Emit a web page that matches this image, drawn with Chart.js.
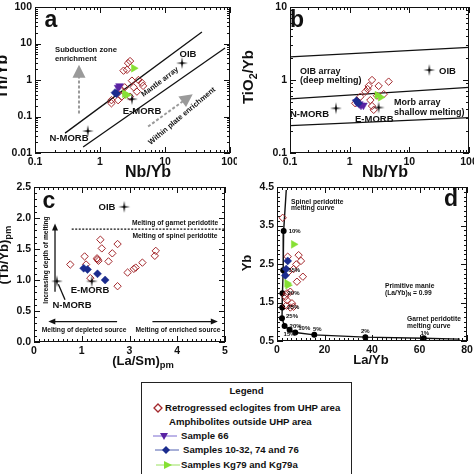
<!DOCTYPE html>
<html>
<head>
<meta charset="utf-8">
<script src="https://cdn.jsdelivr.net/npm/chart.js@4.4.1/dist/chart.umd.min.js"></script>
<style>
  body { margin: 0; background: #fff; width: 474px; height: 474px; overflow: hidden; position: relative; }
  canvas { position: absolute; }
  #legend { position: absolute; left: 141px; top: 382px; width: 209px; height: 110px; border: 1px solid #222; background: #fff;
            font: bold 9.6px 'Liberation Sans', Arial, sans-serif; color: #111; }
  #legend div, #legend svg { position: absolute; white-space: nowrap; line-height: 12px; }
</style>
</head>
<body>
<canvas id="ca" width="237" height="180" style="left:0;top:0"></canvas>
<canvas id="cb" width="237" height="180" style="left:237px;top:0"></canvas>
<canvas id="cc" width="237" height="192" style="left:0;top:180px"></canvas>
<canvas id="cd" width="237" height="192" style="left:237px;top:180px"></canvas>

<div id="legend">
  <div style="left:0;width:209px;text-align:center;top:2px">Legend</div>
  <svg style="left:11px;top:20px" width="10" height="10"><path d="M5 1 L9 5 L5 9 L1 5 Z" fill="none" stroke="#a3282c" stroke-width="1.3"/></svg>
  <div style="left:23px;top:19px">Retrogressed eclogites from UHP area</div>
  <div style="left:27px;top:33px">Amphibolites outside UHP area</div>
  <svg style="left:10px;top:47px" width="26" height="12"><line x1="1" y1="6" x2="25" y2="6" stroke="#7a6ad0" stroke-width="1"/><path d="M8 3 L16 3 L12 10 Z" fill="#5a23a3"/></svg>
  <div style="left:39px;top:47px">Sample 66</div>
  <svg style="left:12px;top:61px" width="26" height="12"><line x1="1" y1="6" x2="25" y2="6" stroke="#5060b0" stroke-width="1"/><path d="M12 2 L16 6 L12 10 L8 6 Z" fill="#1b2c8e"/></svg>
  <div style="left:41px;top:61px">Samples 10-32, 74 and 76</div>
  <svg style="left:13px;top:76px" width="26" height="12"><line x1="1" y1="6" x2="25" y2="6" stroke="#9be060" stroke-width="1"/><path d="M9 2 L17 6 L9 10 Z" fill="#86e034"/></svg>
  <div style="left:39px;top:76px">Samples Kg79 and Kg79a</div>
</div>

<script>
const FONT = "'Liberation Sans', Arial, sans-serif";

// ---------- data ----------
// reference compositions (stars), order: N-MORB, E-MORB, OIB
const refNames = ['N-MORB', 'E-MORB', 'OIB'];

// panel a : Th/Yb vs Nb/Yb
const aEclX = [2.9, 2.7, 2.3, 2.6, 3.1, 3.9, 2.4, 3.3, 4.4, 4.6, 2.15, 2.9, 1.5, 1.5, 1.9, 3.7, 2.1];
const aEclY = [3.3, 2.9, 1.8, 1.9, 0.96, 1.0, 0.63, 0.63, 0.84, 0.69, 0.35, 0.35, 0.28, 0.23, 0.28, 0.48, 0.55];
const a66X = [2.0, 1.9];
const a66Y = [0.69, 0.62];
const a10X = [1.7, 1.8];
const a10Y = [0.45, 0.42];
const aKgX = [3.3, 2.6, 2.4];
const aKgY = [2.1, 0.39, 0.42];
const aRefX = [0.65, 3.1, 18.3];
const aRefY = [0.04, 0.30, 2.9];
const aUpperX = [0.29, 37];
const aUpperY = [0.035, 20.6];
const aLowerX = [0.55, 84];
const aLowerY = [0.0146, 7.5];

// panel b : TiO2/Yb vs Nb/Yb
const bEclX = [4.5, 2.37, 3.06, 3.72, 2.87, 2.08, 1.83, 2.22, 1.51, 1.33, 1.24, 2.37, 2.53, 2.0];
const bEclY = [0.95, 1.0, 0.83, 0.64, 0.61, 0.83, 0.69, 0.53, 0.59, 0.52, 0.48, 0.44, 0.39, 0.75];
const b66X = [1.3, 1.45, 1.55, 1.7];
const b66Y = [0.5, 0.47, 0.45, 0.45];
const b10X = [1.3, 1.4];
const b10Y = [0.52, 0.48];
const bKgX = [2.9, 3.3];
const bKgY = [0.62, 0.58];
const bRefX = [0.59, 3.06, 21.6];
const bRefY = [0.41, 0.42, 1.37];
const bTopY = [2.08, 2.8];
const bMidY = [0.55, 0.79];
const bLowY = [0.237, 0.305];
const bLineX = [0.1, 100];

// panel c : (Tb/Yb)pm vs (La/Sm)pm  (x in axis units, labelled 0,1,3,4,5 as printed)
const cEclX = [0.76, 1.06, 1.09, 1.39, 1.42, 1.32, 1.33, 1.35, 1.56, 1.64, 1.75, 1.75, 1.96, 2.09, 2.13, 2.27, 2.53, 2.55, 1.18];
const cEclY = [1.25, 1.38, 1.25, 1.65, 1.51, 1.35, 1.33, 1.31, 1.30, 1.43, 1.58, 0.90, 1.12, 1.18, 1.20, 1.28, 1.39, 1.47, 1.03];
const c10X = [1.04, 1.12, 1.33, 1.49];
const c10Y = [1.19, 1.17, 1.10, 1.00];
const cRefX = [0.48, 1.21, 1.89];
const cRefY = [0.98, 0.98, 2.18];
const cGarnetX = [0.79, 4];
const cGarnetY = [1.82, 1.82];

// panel d : Yb vs La/Yb
const dEclX = [2.4, 4.5, 9.1, 10.1, 8.1, 7.0, 8.4, 10.9, 4.9, 4.2, 5.6, 4.2, 6.3, 3.9, 5.6, 3.5, 7.0];
const dEclY = [3.7, 2.69, 2.73, 2.58, 2.49, 2.37, 2.04, 2.17, 2.3, 1.74, 1.78, 1.56, 1.48, 1.42, 1.37, 1.65, 1.39];
const d10X = [4.5, 3.9, 3.5];
const d10Y = [2.58, 2.37, 2.2];
const dKgX = [7.0, 4.2, 4.6];
const dKgY = [3.01, 2.0, 1.95];
const dCurveX = [3.9, 2.8, 2.6, 2.3, 2.2, 2.1, 3.2, 5.3, 7.7, 15.7, 37.2, 61.8, 77];
const dCurveY = [4.42, 3.36, 2.34, 1.74, 1.37, 1.09, 0.89, 0.79, 0.72, 0.66, 0.60, 0.57, 0.55];
const dCurvePct = ['', '10%', '15%', '20%', '25%', '25%', '20%', '15%', '10%', '5%', '2%', '1%', ''];

// tick labels
const logX = ['0.1', '1', '10', '100'];
const aYTicks = ['0.01', '0.1', '1', '10', '100'];
const bYTicks = ['0.1', '1', '10'];
const cXTicks = ['0', '1', '3', '4', '5'];
const cYTicks = ['0.0', '0.5', '1.0', '1.5', '2.0', '2.5'];
const dXTicks = ['0', '20', '40', '60', '80'];
const dYTicks = ['0.5', '1.5', '2.5', '3.5', '4.5'];

// ---------- styling ----------
const RED = '#a3282c', PURPLE = '#5a23a3', NAVY = '#1b2c8e', LIME = '#86e034';

function makeStar(r) {
  const c = document.createElement('canvas');
  c.width = c.height = 2 * r + 2;
  const g = c.getContext('2d');
  g.translate(r + 1, r + 1);
  g.beginPath();
  for (let i = 0; i < 8; i++) {
    const ang = i * Math.PI / 4 - Math.PI / 2, rr = i % 2 ? r * 0.2 : r;
    g.lineTo(rr * Math.cos(ang), rr * Math.sin(ang));
  }
  g.closePath();
  g.fillStyle = '#000';
  g.fill();
  return c;
}
const STAR = makeStar(6);

const toPts = (xs, ys) => xs.map((x, i) => ({ x, y: ys[i] }));

function eclogites(xs, ys) {
  return { data: toPts(xs, ys), pointStyle: 'rectRot', pointRadius: 3.7, pointBorderWidth: 1,
           pointBorderColor: RED, pointBackgroundColor: 'rgba(255,255,255,0)', order: 5 };
}
function sample66(xs, ys) {
  return { data: toPts(xs, ys), pointStyle: 'triangle', pointRotation: 180, pointRadius: 4.5, pointBorderWidth: 0.5,
           pointBorderColor: PURPLE, pointBackgroundColor: PURPLE, order: 4 };
}
function samples10(xs, ys) {
  return { data: toPts(xs, ys), pointStyle: 'rectRot', pointRadius: 4, pointBorderWidth: 0.5,
           pointBorderColor: NAVY, pointBackgroundColor: NAVY, order: 3 };
}
function kg79(xs, ys) {
  return { data: toPts(xs, ys), pointStyle: 'triangle', pointRotation: 90, pointRadius: 4.5, pointBorderWidth: 0.5,
           pointBorderColor: LIME, pointBackgroundColor: LIME, order: 2 };
}
function refs(xs, ys) {
  return { data: toPts(xs, ys), pointStyle: STAR, order: 1 };
}
function line(xs, ys, extra) {
  return Object.assign({ type: 'line', data: toPts(xs, ys), borderColor: '#111', borderWidth: 1.3,
                         pointRadius: 0, fill: false, tension: 0, order: 9 }, extra || {});
}

function logMinors(min, max) {
  const out = [];
  for (let e = Math.floor(Math.log10(min)); e < Math.log10(max); e++)
    for (let k = 2; k <= 9; k++) out.push(k * Math.pow(10, e));
  return out;
}
function linMinors(min, max, step) {
  const out = [];
  for (let v = min; v <= max + 1e-9; v += step) out.push(+v.toFixed(4));
  return out;
}

function drawText(ctx, t, x, y) {
  const size = t.size || 8;
  ctx.save();
  ctx.translate(x, y);
  if (t.rot) ctx.rotate(t.rot * Math.PI / 180);
  ctx.fillStyle = '#111';
  ctx.textBaseline = 'middle';
  ctx.textAlign = 'left';
  const main = `bold ${size}px ${FONT}`, small = `bold ${(size * 0.72).toFixed(1)}px ${FONT}`;
  ctx.font = main;
  const w1 = ctx.measureText(t.t).width;
  let w2 = 0, w3 = 0;
  if (t.sub) { ctx.font = small; w2 = ctx.measureText(t.sub).width; }
  if (t.post) { ctx.font = main; w3 = ctx.measureText(t.post).width; }
  const W = w1 + w2 + w3;
  const x0 = t.align === 'left' ? 0 : t.align === 'right' ? -W : -W / 2;
  ctx.font = main;
  ctx.fillText(t.t, x0, 0);
  if (t.sub) { ctx.font = small; ctx.fillText(t.sub, x0 + w1, size * 0.32); }
  if (t.post) { ctx.font = main; ctx.fillText(t.post, x0 + w1 + w2, 0); }
  ctx.restore();
}

function drawArrow(ctx, x1, y1, x2, y2, s) {
  const ang = Math.atan2(y2 - y1, x2 - x1);
  const hl = s.head[0], hw = s.head[1];
  ctx.save();
  ctx.strokeStyle = s.color;
  ctx.fillStyle = s.color;
  ctx.lineWidth = s.width;
  ctx.setLineDash(s.dash || []);
  ctx.beginPath();
  ctx.moveTo(x1, y1);
  ctx.lineTo(x2 - hl * 0.9 * Math.cos(ang), y2 - hl * 0.9 * Math.sin(ang));
  ctx.stroke();
  ctx.setLineDash([]);
  if (hl) {
    ctx.translate(x2, y2);
    ctx.rotate(ang);
    ctx.beginPath();
    ctx.moveTo(0, 0); ctx.lineTo(-hl, hw); ctx.lineTo(-hl, -hw);
    ctx.closePath();
    ctx.fill();
  }
  ctx.restore();
}

// frame, inward ticks on all sides, texts and arrows
function makeDeco(cfg) {
  return {
    id: 'deco',
    afterDraw(chart) {
      const { ctx, chartArea: a, scales } = chart;
      const xs = scales.x, ys = scales.y;
      ctx.save();
      ctx.strokeStyle = '#111';
      ctx.lineWidth = 1;
      ctx.strokeRect(a.left + 0.5, a.top + 0.5, a.right - a.left - 1, a.bottom - a.top - 1);
      const tick = (s, v, len) => {
        const p = Math.round(s.getPixelForValue(v)) + 0.5;
        ctx.beginPath();
        if (s.axis === 'x') {
          ctx.moveTo(p, a.bottom); ctx.lineTo(p, a.bottom - len);
          ctx.moveTo(p, a.top); ctx.lineTo(p, a.top + len);
        } else {
          ctx.moveTo(a.left, p); ctx.lineTo(a.left + len, p);
          ctx.moveTo(a.right, p); ctx.lineTo(a.right - len, p);
        }
        ctx.stroke();
      };
      cfg.xMinor.forEach(v => tick(xs, v, 3));
      cfg.yMinor.forEach(v => tick(ys, v, 3));
      xs.ticks.forEach(t => tick(xs, t.value, 6));
      ys.ticks.forEach(t => tick(ys, t.value, 6));
      (cfg.arrows || []).forEach(r => drawArrow(ctx,
        xs.getPixelForValue(r.from[0]), ys.getPixelForValue(r.from[1]),
        xs.getPixelForValue(r.to[0]), ys.getPixelForValue(r.to[1]), r));
      (cfg.texts || []).forEach(t => drawText(ctx, t, t.px[0], t.px[1]));
      if (cfg.pointLabels) {
        const meta = chart.getDatasetMeta(cfg.pointLabels.dataset);
        cfg.pointLabels.labels.forEach((lab, i) => {
          if (!lab) return;
          const el = meta.data[i], off = cfg.pointLabels.offsets[i];
          drawText(ctx, { t: lab, size: 6, align: off[2] }, el.x + off[0], el.y + off[1]);
        });
      }
      ctx.restore();
    }
  };
}

function scaleOpts(type, min, max, ticks, labels, fitKey, fitVal) {
  return {
    type, min, max,
    grid: { display: false, drawTicks: false },
    border: { display: false },
    ticks: { padding: 3, color: '#111', font: { family: FONT, size: 10.5, weight: 'bold' },
             maxRotation: 0, autoSkip: false, callback: (v, i) => labels[i] },
    afterBuildTicks: s => { s.ticks = ticks.map(v => ({ value: v })); },
    afterFit: s => {
      s[fitKey] = fitVal;
      s.paddingLeft = s.paddingRight = s.paddingTop = s.paddingBottom = 0;
    }
  };
}

function makeChart(id, datasets, sc, pad, deco) {
  return new Chart(document.getElementById(id), {
    type: 'scatter',
    data: { datasets },
    options: {
      responsive: false, animation: false, events: [],
      layout: { padding: pad },
      plugins: { legend: { display: false }, tooltip: { enabled: false } },
      scales: sc
    },
    plugins: [makeDeco(deco)]
  });
}

// ---------- panel a ----------
makeChart('ca', [
  refs(aRefX, aRefY),
  kg79(aKgX, aKgY),
  samples10(a10X, a10Y),
  sample66(a66X, a66Y),
  eclogites(aEclX, aEclY),
  line(aUpperX, aUpperY),
  line(aLowerX, aLowerY)
], {
  x: scaleOpts('logarithmic', 0.1, 100, [0.1, 1, 10, 100], logX, 'height', 27),
  y: scaleOpts('logarithmic', 0.01, 100, [0.01, 0.1, 1, 10, 100], aYTicks, 'width', 35)
}, { top: 7, right: 7, left: 0, bottom: 0 }, {
  xMinor: logMinors(0.1, 100), yMinor: logMinors(0.01, 100),
  arrows: [
    { from: [0.475, 0.12], to: [0.475, 2.6], color: '#9a9a9a', width: 2, dash: [3, 2], head: [13, 6.5] },
    { from: [5.5, 0.053], to: [26.7, 0.41], color: '#9a9a9a', width: 2, dash: [3, 2], head: [13, 6.5] }
  ],
  texts: [
    { t: 'a', px: [51, 21], size: 23 },
    { t: 'Subduction zone', px: [55, 50], size: 7.7, align: 'left' },
    { t: 'enrichment', px: [55, 58.5], size: 7.7, align: 'left' },
    { t: refNames[2], px: [188, 54.5], size: 9.5 },
    { t: refNames[1], px: [142, 111], size: 9.5 },
    { t: refNames[0], px: [69, 138], size: 9.5 },
    { t: 'Mantle array', px: [160, 82], size: 7.5, rot: -37 },
    { t: 'Within plate enrichment', px: [182, 116], size: 7.5, rot: -40 },
    { t: 'Nb/Yb', px: [148, 173], size: 16 },
    { t: 'Th/Yb', px: [3, 77], size: 16, rot: -90 }
  ]
});

// ---------- panel b ----------
makeChart('cb', [
  refs(bRefX, bRefY),
  kg79(bKgX, bKgY),
  samples10(b10X, b10Y),
  sample66(b66X, b66Y),
  eclogites(bEclX, bEclY),
  line(bLineX, bTopY),
  line(bLineX, bMidY),
  line(bLineX, bLowY)
], {
  x: scaleOpts('logarithmic', 0.1, 100, [0.1, 1, 10, 100], logX, 'height', 27),
  y: scaleOpts('logarithmic', 0.1, 10, [0.1, 1, 10], bYTicks, 'width', 53)
}, { top: 7, right: 5, left: 0, bottom: 0 }, {
  xMinor: logMinors(0.1, 100), yMinor: logMinors(0.1, 10),
  texts: [
    { t: 'b', px: [60, 21], size: 23 },
    { t: 'OIB array', px: [63, 72], size: 9, align: 'left' },
    { t: '(deep melting)', px: [63, 81], size: 9, align: 'left' },
    { t: refNames[2], px: [202, 71], size: 9.5, align: 'left' },
    { t: refNames[0], px: [53, 114], size: 9.5, align: 'left' },
    { t: refNames[1], px: [118, 119], size: 9.5, align: 'left' },
    { t: 'Morb array', px: [157, 103], size: 9, align: 'left' },
    { t: 'shallow melting)', px: [157, 113], size: 9, align: 'left' },
    { t: 'Nb/Yb', px: [148, 173], size: 16 },
    { t: 'TiO', sub: '2', post: '/Yb', px: [12, 77], size: 15, rot: -90 }
  ]
});

// ---------- panel c ----------
makeChart('cc', [
  refs(cRefX, cRefY),
  samples10(c10X, c10Y),
  eclogites(cEclX, cEclY),
  line(cGarnetX, cGarnetY, { borderWidth: 1.2, borderDash: [2, 1.5] })
], {
  x: scaleOpts('linear', 0, 4, [0, 1, 2, 3, 4], cXTicks, 'height', 30),
  y: scaleOpts('linear', 0, 2.5, [0, 0.5, 1, 1.5, 2, 2.5], cYTicks, 'width', 34)
}, { top: 7, right: 12, left: 0, bottom: 0 }, {
  xMinor: linMinors(0, 4, 0.1), yMinor: linMinors(0, 2.5, 0.1),
  arrows: [
    { from: [0.44, 0.81], to: [0.44, 1.91], color: '#111', width: 1.3, head: [7, 3] },
    { from: [1.74, 0.33], to: [0.30, 0.33], color: '#111', width: 1.3, head: [7, 3] },
    { from: [2.48, 0.33], to: [3.85, 0.33], color: '#111', width: 1.3, head: [7, 3] },
    { from: [0.51, 0.93], to: [0.65, 0.68], color: '#111', width: 1.3, head: [0, 0] }
  ],
  texts: [
    { t: 'c', px: [49, 22], size: 23 },
    { t: refNames[2], px: [107, 27], size: 9.5 },
    { t: 'Melting of garnet peridotite', px: [175, 43], size: 6.7 },
    { t: 'Melting of spinel peridotite', px: [175, 56], size: 6.7 },
    { t: 'Increasing depth of melting', px: [46.5, 80], size: 6.7, rot: -90 },
    { t: refNames[1], px: [90, 110], size: 9.5 },
    { t: refNames[0], px: [72, 125], size: 9.5 },
    { t: 'Melting of depleted source', px: [84, 150], size: 6.7 },
    { t: 'Melting of enriched source', px: [178, 150], size: 6.7 },
    { t: '(La/Sm)', sub: 'pm', px: [143, 181], size: 13 },
    { t: '(Tb/Yb)', sub: 'pm', px: [4, 75], size: 13, rot: -90 }
  ]
});

// ---------- panel d ----------
const dPctOffsets = [
  [0, 0, 'left'], [5, 0, 'left'], [5, 0, 'left'], [5, 0, 'left'], [5, 0, 'left'],
  [4, -2, 'left'], [5, 0, 'left'], [0, 5, 'center'], [3, -4, 'left'],
  [3, -5, 'center'], [0, -6, 'center'], [1, -5, 'center'], [0, 0, 'left']
];
makeChart('cd', [
  kg79(dKgX, dKgY),
  samples10(d10X, d10Y),
  eclogites(dEclX, dEclY),
  line(dCurveX, dCurveY, { borderWidth: 1.4, order: 8,
    pointRadius: dCurvePct.map(p => p ? 2.3 : 0), pointBackgroundColor: '#000', pointBorderColor: '#000' })
], {
  x: scaleOpts('linear', 0, 80, [0, 20, 40, 60, 80], dXTicks, 'height', 31),
  y: scaleOpts('linear', 0.5, 4.5, [0.5, 1.5, 2.5, 3.5, 4.5], dYTicks, 'width', 40)
}, { top: 7, right: 7, left: 0, bottom: 0 }, {
  xMinor: linMinors(0, 80, 2), yMinor: linMinors(0.5, 4.5, 0.125),
  pointLabels: { dataset: 3, labels: dCurvePct, offsets: dPctOffsets },
  texts: [
    { t: 'd', px: [214, 20], size: 23 },
    { t: 'Spinel peridotite', px: [54, 22], size: 6.7, align: 'left' },
    { t: 'melting curve', px: [54, 28.5], size: 6.7, align: 'left' },
    { t: 'Primitive manie', px: [148, 106], size: 6.7, align: 'left' },
    { t: '(La/Yb)', sub: 'N', post: ' = 0.99', px: [148, 113], size: 6.7, align: 'left' },
    { t: 'Garnet peridotite', px: [170, 139], size: 6.7, align: 'left' },
    { t: 'melting curve', px: [170, 146], size: 6.7, align: 'left' },
    { t: 'La/Yb', px: [134, 180], size: 13 },
    { t: 'Yb', px: [10, 83], size: 13, rot: -90 }
  ]
});
</script>
</body>
</html>
